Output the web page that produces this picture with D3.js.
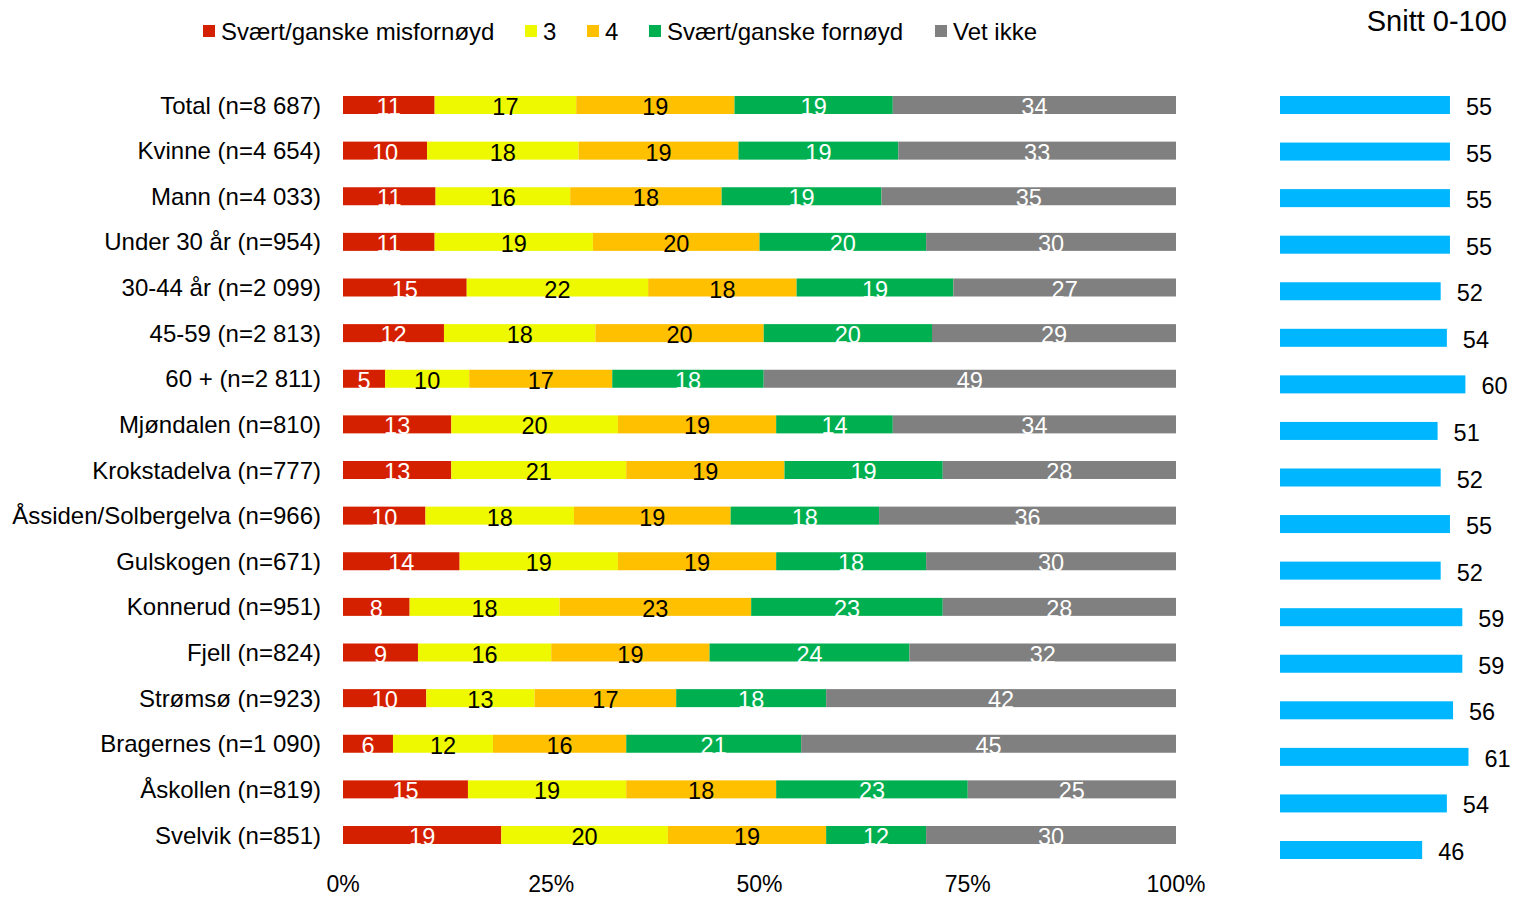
<!DOCTYPE html>
<html><head><meta charset="utf-8">
<script src="https://cdn.jsdelivr.net/npm/d3@7"></script>
<style>body{margin:0;background:#fff}svg{display:block;font-family:"Liberation Sans",Arial,sans-serif}</style>
</head><body>
<svg id="c" width="1516" height="898"></svg>
<script>
const categories = ["Total (n=8 687)","Kvinne (n=4 654)","Mann (n=4 033)","Under 30 år (n=954)","30-44 år (n=2 099)","45-59 (n=2 813)","60 + (n=2 811)","Mjøndalen (n=810)","Krokstadelva (n=777)","Åssiden/Solbergelva (n=966)","Gulskogen (n=671)","Konnerud (n=951)","Fjell (n=824)","Strømsø (n=923)","Bragernes (n=1 090)","Åskollen (n=819)","Svelvik (n=851)"];
const seriesNames = ["Svært/ganske misfornøyd","3","4","Svært/ganske fornøyd","Vet ikke"];
const misfornoyd = [11,10,11,11,15,12,5,13,13,10,14,8,9,10,6,15,19];
const tre        = [17,18,16,19,22,18,10,20,21,18,19,18,16,13,12,19,20];
const fire       = [19,19,18,20,18,20,17,19,19,19,19,23,19,17,16,18,19];
const fornoyd    = [19,19,19,20,19,20,18,14,19,18,18,23,24,18,21,23,12];
const vetIkke    = [34,33,35,30,27,29,49,34,28,36,30,28,32,42,45,25,30];
const snitt      = [55,55,55,55,52,54,60,51,52,55,52,59,59,56,61,54,46];
const xTicks = [0,25,50,75,100];
const colors = ["#D52000","#EEF900","#FFC000","#00B050","#808080"];
const textColors = ["#fff","#000","#000","#fff","#fff"];

const svg = d3.select("#c");
const series = [misfornoyd,tre,fire,fornoyd,vetIkke];
const x = d3.scaleLinear().domain([0,100]).range([343,1176]);
const y = d3.scalePoint().domain(categories).range([105,835]);
const barH = 18;
const FS = 23.5;

// stacked (normalised to 100%)
const rows = categories.map((c,i)=>{
  const vals = series.map(s=>s[i]);
  const tot = d3.sum(vals);
  let acc = 0;
  return vals.map((v,k)=>{const a=acc; acc+=v; return {cat:c,k,v,x0:a/tot*100,x1:acc/tot*100};});
});
const g = svg.append("g");
rows.forEach(r=>{
  r.forEach(d=>{
    g.append("rect").attr("x",x(d.x0)).attr("y",y(d.cat)-barH/2)
      .attr("width",x(d.x1)-x(d.x0)).attr("height",barH).attr("fill",colors[d.k]);
    g.append("text").attr("x",(x(d.x0)+x(d.x1))/2).attr("y",y(d.cat)+2)
      .attr("text-anchor","middle").attr("dominant-baseline","central")
      .attr("font-size",FS).attr("fill",textColors[d.k]).text(d.v);
  });
});
// category labels
svg.append("g").selectAll("text").data(categories).join("text")
  .attr("x",321).attr("y",d=>y(d)).attr("text-anchor","end").attr("dominant-baseline","central")
  .attr("font-size",24).attr("fill","#000").text(d=>d);
// x axis labels
svg.append("g").selectAll("text").data(xTicks).join("text")
  .attr("x",d=>x(d)).attr("y",884).attr("text-anchor","middle").attr("dominant-baseline","central")
  .attr("font-size",23).attr("fill","#000").text(d=>d+"%");

// legend
const legX = [203,525,587,649,935];
seriesNames.forEach((n,k)=>{
  svg.append("rect").attr("x",legX[k]).attr("y",25).attr("width",12).attr("height",12).attr("fill",colors[k]);
  svg.append("text").attr("x",legX[k]+18).attr("y",31).attr("dominant-baseline","central")
    .attr("font-size",24).attr("fill","#000").text(n);
});

// right panel
const x2 = d3.scaleLinear().domain([0,100]).range([1280,1589]);
const y2 = d3.scalePoint().domain(categories).range([105,850]);
svg.append("text").attr("x",1507).attr("y",21).attr("text-anchor","end").attr("dominant-baseline","central")
  .attr("font-size",29).attr("fill","#000").text("Snitt 0-100");
svg.append("g").selectAll("rect").data(categories).join("rect")
  .attr("x",x2(0)).attr("y",d=>y2(d)-barH/2).attr("width",(d,i)=>x2(snitt[i])-x2(0)).attr("height",barH)
  .attr("fill","#00B6FF");
svg.append("g").selectAll("text").data(categories).join("text")
  .attr("x",(d,i)=>x2(snitt[i])+16).attr("y",d=>y2(d)+2).attr("dominant-baseline","central")
  .attr("font-size",FS).attr("fill","#000").text((d,i)=>snitt[i]);
</script>
</body></html>
